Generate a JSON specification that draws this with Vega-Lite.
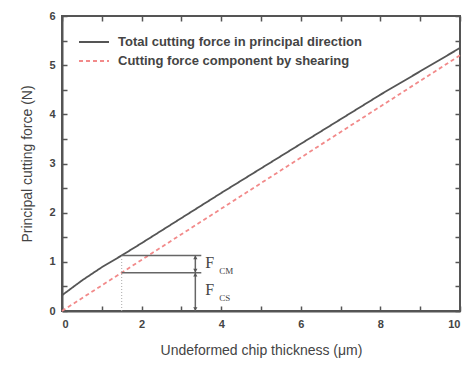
{
  "$schema": "https://vega.github.io/schema/vega-lite/v6.json",
  "width": 398,
  "height": 295,
  "autosize": {"type": "none"},
  "padding": {"left": 62, "top": 16, "right": 9, "bottom": 56},
  "background": "white",
  "config": {
    "view": {"stroke": "#555", "strokeWidth": 2},
    "axis": {"labelFont": "Liberation Sans", "titleFont": "Liberation Sans", "labelColor": "#444", "titleColor": "#444", "labelFontSize": 11, "titleFontSize": 14, "titleFontWeight": "normal", "labelFontWeight": "bold", "grid": false, "domainColor": "#555", "domainWidth": 2, "tickColor": "#555", "tickWidth": 1.5}
  },
  "datasets": {
    "lines": [
      {"h": 0, "f": 0.32, "s": "Total cutting force in principal direction"},
      {"h": 0.5, "f": 0.62, "s": "Total cutting force in principal direction"},
      {"h": 1, "f": 0.89, "s": "Total cutting force in principal direction"},
      {"h": 1.5, "f": 1.13, "s": "Total cutting force in principal direction"},
      {"h": 2, "f": 1.38, "s": "Total cutting force in principal direction"},
      {"h": 4, "f": 2.4, "s": "Total cutting force in principal direction"},
      {"h": 6, "f": 3.4, "s": "Total cutting force in principal direction"},
      {"h": 8, "f": 4.4, "s": "Total cutting force in principal direction"},
      {"h": 10, "f": 5.35, "s": "Total cutting force in principal direction"},
      {"h": 0, "f": 0, "s": "Cutting force component by shearing"},
      {"h": 1.5, "f": 0.78, "s": "Cutting force component by shearing"},
      {"h": 10, "f": 5.2, "s": "Cutting force component by shearing"}
    ],
    "ann": [
      {"x": 1.5, "x2": 3.5, "y": 1.13, "y2": 1.13},
      {"x": 1.5, "x2": 3.5, "y": 0.78, "y2": 0.78},
      {"x": 3.35, "x2": 3.35, "y": 0, "y2": 1.13}
    ],
    "dotted": [
      {"x": 1.5, "x2": 1.5, "y": 0, "y2": 1.13}
    ],
    "arrows": [
      {"x": 3.35, "y": 1.09, "shape": "triangle-up"},
      {"x": 3.35, "y": 0.82, "shape": "triangle-down"},
      {"x": 3.35, "y": 0.74, "shape": "triangle-up"},
      {"x": 3.35, "y": 0.04, "shape": "triangle-down"}
    ],
    "labels": [
      {"x": 3.6, "y": 0.98, "t": "F", "sz": 16},
      {"x": 3.95, "y": 0.82, "t": "CM", "sz": 9},
      {"x": 3.6, "y": 0.42, "t": "F", "sz": 16},
      {"x": 3.95, "y": 0.26, "t": "CS", "sz": 9}
    ],
    "mirror": [{"a": 0, "b": 0}]
  },
  "layer": [
    {
      "data": {"name": "lines"},
      "mark": {"type": "line", "strokeWidth": 1.8},
      "encoding": {
        "x": {"field": "h", "type": "quantitative", "scale": {"domain": [0, 10]}, "title": "Undeformed chip thickness (μm)", "axis": {"values": [0, 1, 2, 3, 4, 5, 6, 7, 8, 9, 10], "labelExpr": "datum.value % 2 == 0 ? format(datum.value, 'd') : ''", "tickSize": -5, "labelPadding": 12, "titlePadding": 14}},
        "y": {"field": "f", "type": "quantitative", "scale": {"domain": [0, 6]}, "title": "Principal cutting force (N)", "axis": {"values": [0, 0.5, 1, 1.5, 2, 2.5, 3, 3.5, 4, 4.5, 5, 5.5, 6], "labelExpr": "datum.value % 1 == 0 ? format(datum.value, 'd') : ''", "tickSize": -5, "labelPadding": 12, "titlePadding": 14}},
        "color": {"field": "s", "type": "nominal", "sort": null, "scale": {"domain": ["Total cutting force in principal direction", "Cutting force component by shearing"], "range": ["#555555", "#f28a8a"]}, "legend": {"orient": "none", "legendX": 16, "legendY": 18, "title": null, "symbolType": "stroke", "symbolSize": 900, "symbolStrokeWidth": 2, "labelFont": "Liberation Sans", "labelFontSize": 13, "labelFontWeight": "bold", "labelColor": "#444", "labelLimit": 400, "clipHeight": 16, "rowPadding": 3, "labelOffset": 8}},
        "strokeDash": {"field": "s", "type": "nominal", "sort": null, "scale": {"domain": ["Total cutting force in principal direction", "Cutting force component by shearing"], "range": [[1, 0], [4, 3]]}, "legend": {"orient": "none", "legendX": 16, "legendY": 18, "title": null, "symbolType": "stroke", "symbolSize": 900, "symbolStrokeWidth": 2, "labelFont": "Liberation Sans", "labelFontSize": 13, "labelFontWeight": "bold", "labelColor": "#444", "labelLimit": 400, "clipHeight": 16, "rowPadding": 3, "labelOffset": 8}}
      }
    },
    {
      "data": {"name": "mirror"},
      "mark": {"type": "point", "opacity": 0},
      "encoding": {
        "x": {"field": "a", "type": "quantitative", "axis": {"orient": "top", "values": [0, 1, 2, 3, 4, 5, 6, 7, 8, 9, 10], "labels": false, "title": null, "tickSize": -5, "domain": false}},
        "y": {"field": "b", "type": "quantitative", "axis": {"orient": "right", "values": [0, 0.5, 1, 1.5, 2, 2.5, 3, 3.5, 4, 4.5, 5, 5.5, 6], "labels": false, "title": null, "tickSize": -5, "domain": false}}
      }
    },
    {
      "data": {"name": "ann"},
      "mark": {"type": "rule", "color": "#666", "strokeWidth": 1.5},
      "encoding": {
        "x": {"field": "x", "type": "quantitative", "axis": null},
        "x2": {"field": "x2"},
        "y": {"field": "y", "type": "quantitative", "axis": null},
        "y2": {"field": "y2"}
      }
    },
    {
      "data": {"name": "dotted"},
      "mark": {"type": "rule", "color": "#aaa", "strokeWidth": 1, "strokeDash": [1, 2]},
      "encoding": {
        "x": {"field": "x", "type": "quantitative", "axis": null},
        "x2": {"field": "x2"},
        "y": {"field": "y", "type": "quantitative", "axis": null},
        "y2": {"field": "y2"}
      }
    },
    {
      "data": {"name": "arrows"},
      "mark": {"type": "point", "filled": true, "color": "#555", "size": 18, "opacity": 1},
      "encoding": {
        "x": {"field": "x", "type": "quantitative", "axis": null},
        "y": {"field": "y", "type": "quantitative", "axis": null},
        "shape": {"field": "shape", "type": "nominal", "scale": null}
      }
    },
    {
      "data": {"name": "labels"},
      "mark": {"type": "text", "font": "Liberation Serif", "color": "#444", "align": "left", "baseline": "middle"},
      "encoding": {
        "x": {"field": "x", "type": "quantitative", "axis": null},
        "y": {"field": "y", "type": "quantitative", "axis": null},
        "text": {"field": "t"},
        "size": {"field": "sz", "type": "quantitative", "scale": null}
      }
    }
  ],
  "resolve": {"axis": {"x": "independent", "y": "independent"}}
}
